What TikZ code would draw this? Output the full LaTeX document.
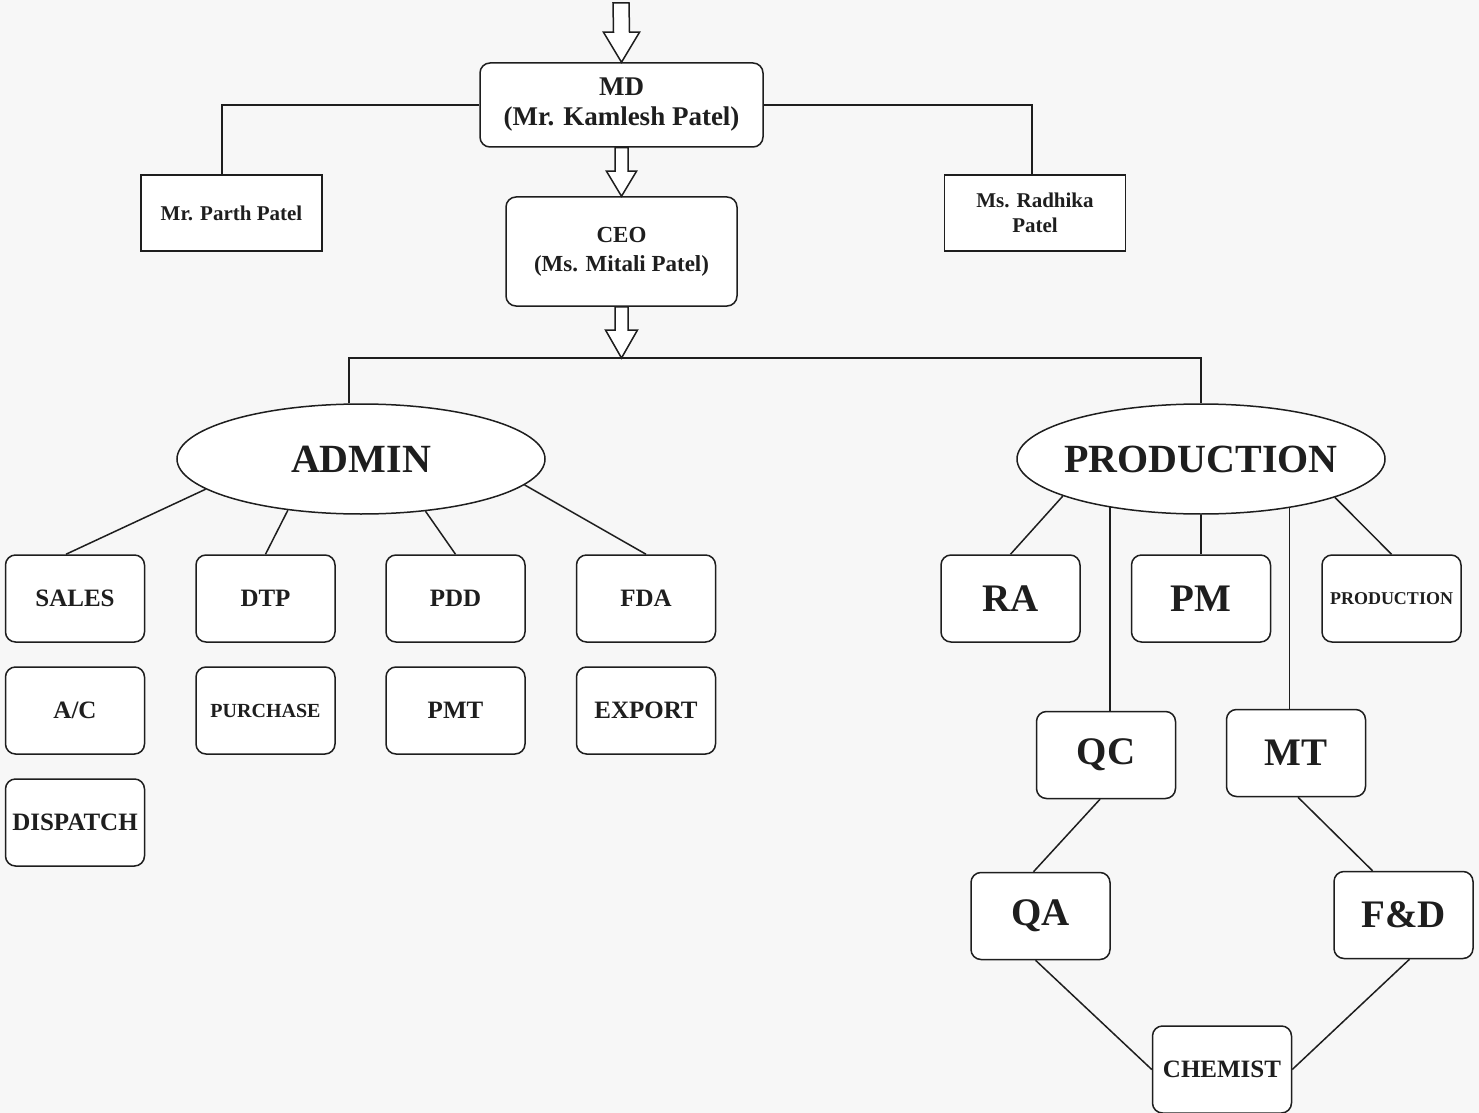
\documentclass[tikz,border=0pt]{standalone}
\usepackage{fontspec}
\setmainfont{Liberation Serif}
\usetikzlibrary{shapes.geometric,calc}

\definecolor{pagebg}{RGB}{247,247,247}
\definecolor{inkline}{RGB}{30,30,30}

% block arrow from #1 down to #2, head length #3
\newcommand{\blockarrow}[5]{%
  \draw[inkline, line width=0.75pt, fill=white, line join=miter]
    ($(#1)+(-#4,0)$) -- ($(#2)+(-#4,-#3)$) -- ($(#2)+(-#5,-#3)$) -- (#2)
    -- ($(#2)+(#5,-#3)$) -- ($(#2)+(#4,-#3)$) -- ($(#1)+(#4,0)$) -- cycle;}

\begin{document}
\begin{tikzpicture}[x=0.5pt, y=-0.5pt,
    every node/.style={text=inkline},
    headbox/.style={draw=inkline, line width=0.75pt, fill=white, rounded corners=5pt,
      align=center, inner sep=0pt},
    sidebox/.style={draw=inkline, line width=0.75pt, fill=white, align=center, inner sep=0pt,
      minimum width=90.5pt, minimum height=38pt,
      font=\fontsize{10.5}{12.5}\selectfont\bfseries},
    unitbox/.style={draw=inkline, line width=0.75pt, fill=white, rounded corners=5pt,
      align=center, inner sep=0pt, minimum width=69.5pt, minimum height=43.5pt,
      font=\fontsize{12.5}{14}\selectfont\bfseries},
    bigunit/.style={unitbox, font=\fontsize{19.5}{22}\selectfont\bfseries},
    smallunit/.style={unitbox, font=\fontsize{10}{12}\selectfont\bfseries},
    dept/.style={draw=inkline, line width=0.75pt, fill=white, ellipse, inner sep=0pt,
      minimum width=184pt, minimum height=55pt},
    deptname/.style={text=inkline, font=\fontsize{20}{24}\selectfont\bfseries},
    link/.style={draw=inkline, line width=0.75pt}]

    % Background
    \fill[pagebg] (0,0) rectangle (1479,1113);
    \useasboundingbox (0,0) rectangle (1479,1113);

    % Draw top management
    \coordinate (entry) at (621,3);
    \node[headbox, minimum width=141.5pt, minimum height=42pt,
      font=\fontsize{13.5}{15}\selectfont\bfseries] (md) at (621.5,105)
      {MD\\(Mr. Kamlesh Patel)};
    \node[sidebox] (parth) at (231.5,213) {Mr. Parth Patel};
    \node[sidebox] (radhika) at (1035,213) {Ms. Radhika\\Patel};
    \node[headbox, minimum width=115.5pt, minimum height=54.5pt,
      font=\fontsize{11.5}{14.5}\selectfont\bfseries] (ceo) at (621.5,251.5)
      {CEO\\(Ms. Mitali Patel)};
    \coordinate (bus) at (621.5,358);

    % Draw block arrows
    \blockarrow{entry}{md.north}{30}{8}{18}
    \blockarrow{md.south}{ceo.north}{25}{6.5}{15}
    \blockarrow{ceo.south}{bus}{28}{6.5}{16}

    % Draw side links
    \draw[link] (md.west) -| ([xshift=-4.75pt]parth.north);
    \draw[link] (md.east) -| ([xshift=-1.5pt]radhika.north);

    % Draw departments
    \node[dept, label={[deptname]center:ADMIN}] (admin) at (361,459) {};
    \node[dept, label={[deptname]center:PRODUCTION}] (prod) at (1201,459) {};
    \draw[link] ([xshift=-6pt]admin.north) |- (bus) -| (prod.north);

    % Draw admin units
    \node[unitbox] (sales) at (75,598.5) {SALES};
    \node[unitbox] (dtp) at (265.5,598.5) {DTP};
    \node[unitbox] (pdd) at (455.5,598.5) {PDD};
    \node[unitbox] (fda) at (646,598.5) {FDA};
    \node[unitbox] (ac) at (75,710.5) {A/C};
    \node[smallunit] (purchase) at (265.5,710.5) {PURCHASE};
    \node[unitbox] (pmt) at (455.5,710.5) {PMT};
    \node[unitbox] (export) at (646,710.5) {EXPORT};
    \node[unitbox] (dispatch) at (75,822.5) {DISPATCH};

    \draw[link] (admin.191) -- ([xshift=-4.5pt]sales.north);
    \draw[link] (admin.215.5) -- (dtp.north);
    \draw[link] (admin.321) -- (pdd.north);
    \draw[link] (admin.351.5) -- (fda.north);

    % Draw production units
    \node[bigunit] (ra) at (1010.5,598.5) {RA};
    \node[bigunit] (pm) at (1201,598.5) {PM};
    \node[unitbox, font=\fontsize{9}{11}\selectfont\bfseries] (produnit) at (1391.5,598.5) {PRODUCTION};
    \node[bigunit] (qc) at (1106,755) {QC};
    \node[bigunit] (mt) at (1296,753) {MT};
    \node[bigunit] (qa) at (1040.5,916) {QA};
    \node[bigunit] (fd) at (1403.5,915) {F\&D};
    \node[unitbox] (chemist) at (1222,1069.5) {CHEMIST};

    \draw[link] (prod.195) -- (ra.north);
    \draw[link] (prod.south) -- (pm.north);
    \draw[link] (prod.344.5) -- (produnit.north);
    \draw[link] (prod.208) -- (prod.208 |- qc.north);
    \draw[link] (prod.331) -- (prod.331 |- mt.north);

    \draw[link] ([xshift=-3pt]qc.south) -- ([xshift=-3.5pt]qa.north);
    \draw[link] ([xshift=1pt]mt.south) -- ([xshift=-15.5pt]fd.north);
    \draw[link] ([xshift=-2.5pt]qa.south) -- (chemist.west);
    \draw[link] ([xshift=3pt]fd.south) -- (chemist.east);
\end{tikzpicture}
\end{document}
